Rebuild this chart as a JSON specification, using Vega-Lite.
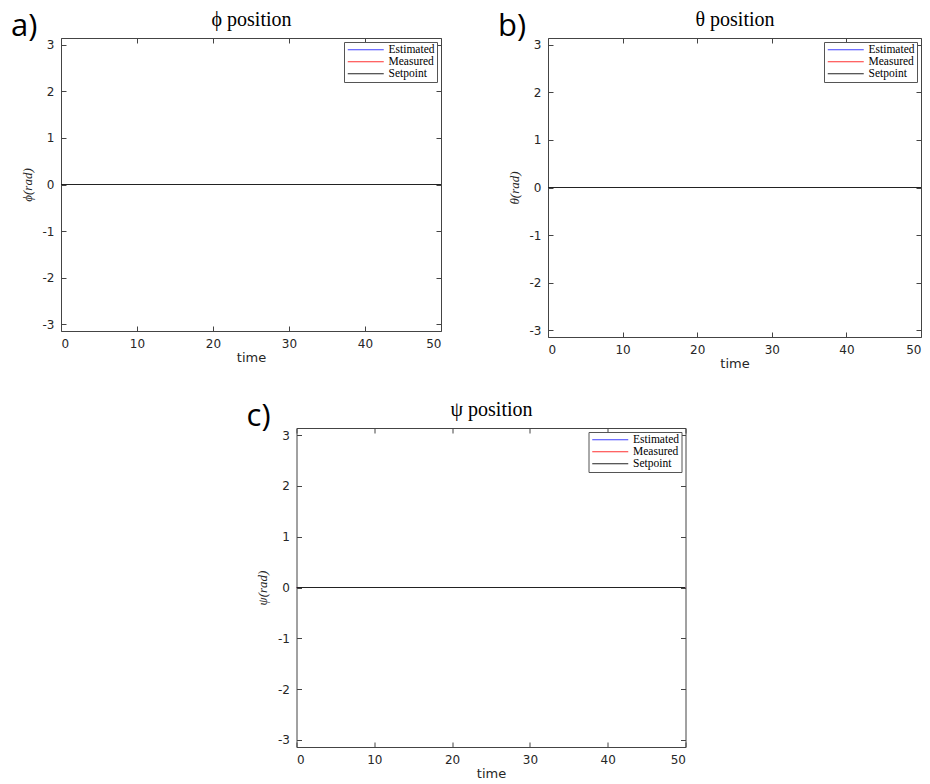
{
  "$schema": "https://vega.github.io/schema/vega-lite/v6.json",
  "padding": {"left": 10, "top": 9, "right": 3, "bottom": 3},
  "datasets": {
    "d": [
      {"t": 0, "v": 0, "s": "Estimated"}, {"t": 50, "v": 0, "s": "Estimated"},
      {"t": 0, "v": 0, "s": "Measured"}, {"t": 50, "v": 0, "s": "Measured"},
      {"t": 0, "v": 0, "s": "Setpoint"}, {"t": 50, "v": 0, "s": "Setpoint"}
    ]
  },
  "config": {
    "view": {"stroke": "#444", "strokeWidth": 1},
    "axis": {
      "domain": false, "grid": false, "tickColor": "#444", "tickSize": 5, "offset": -5, "labelPadding": 7,
      "labelFont": "DejaVu Sans", "labelFontSize": 12, "labelColor": "#262626",
      "titleFont": "DejaVu Sans", "titleFontSize": 13, "titleFontWeight": "normal", "titleColor": "#262626"
    },
    "legend": {
      "orient": "top-right", "offset": 4, "title": null, "strokeColor": "#555", "fillColor": "white",
      "padding": 2, "symbolType": "M-1,0H8", "symbolSize": 64, "symbolStrokeWidth": 1,
      "labelFont": "Liberation Serif", "labelFontSize": 11.5, "labelColor": "black", "labelOffset": 31, "rowPadding": -3
    },
    "title": {"anchor": "start", "font": "Open Sans", "fontSize": 31, "fontWeight": "normal", "color": "black", "offset": -33, "dx": -10}
  },
  "vconcat": [
    {
      "hconcat": [
        {
          "width": 380, "height": 293,
          "title": "a)",
          "data": {"name": "d"},
          "layer": [
            {"mark": {"type": "line", "strokeWidth": 1, "clip": true},
             "encoding": {
               "x": {"field": "t", "type": "quantitative", "scale": {"domain": [0, 50], "nice": false}, "axis": {"orient": "bottom", "title": "time", "values": [0, 10, 20, 30, 40, 50], "titlePadding": 2}},
               "y": {"field": "v", "type": "quantitative", "scale": {"domain": [-3.1416, 3.1416], "nice": false, "zero": false}, "axis": {"orient": "left", "title": "ϕ(rad)", "values": [-3, -2, -1, 0, 1, 2, 3], "labelExpr": "toString(datum.value)", "titleFont": "Liberation Serif", "titleFontStyle": "italic", "titleFontSize": 13, "titlePadding": 8}},
               "color": {"field": "s", "type": "nominal", "scale": {"domain": ["Estimated", "Measured", "Setpoint"], "range": ["#4040ff", "#ff3030", "#222222"]}}
             }},
            {"mark": {"type": "point", "opacity": 0},
             "encoding": {
               "x": {"datum": 0, "type": "quantitative", "scale": {"domain": [0, 50], "nice": false}, "axis": {"orient": "top", "labels": false, "values": [0, 10, 20, 30, 40, 50], "title": "ϕ position", "titleFont": "Liberation Serif", "titleFontSize": 20, "titleColor": "black", "titlePadding": 8}},
               "y": {"datum": 0, "type": "quantitative", "scale": {"domain": [-3.1416, 3.1416], "nice": false, "zero": false}, "axis": {"orient": "right", "labels": false, "values": [-3, -2, -1, 0, 1, 2, 3], "title": null}}
             }}
          ],
          "resolve": {"axis": {"x": "independent", "y": "independent"}}
        },
        {
          "width": 373, "height": 299,
          "title": "b)",
          "data": {"name": "d"},
          "layer": [
            {"mark": {"type": "line", "strokeWidth": 1, "clip": true},
             "encoding": {
               "x": {"field": "t", "type": "quantitative", "scale": {"domain": [0, 50], "nice": false}, "axis": {"orient": "bottom", "title": "time", "values": [0, 10, 20, 30, 40, 50], "titlePadding": 2}},
               "y": {"field": "v", "type": "quantitative", "scale": {"domain": [-3.1416, 3.1416], "nice": false, "zero": false}, "axis": {"orient": "left", "title": "θ(rad)", "values": [-3, -2, -1, 0, 1, 2, 3], "labelExpr": "toString(datum.value)", "titleFont": "Liberation Serif", "titleFontStyle": "italic", "titleFontSize": 13, "titlePadding": 8}},
               "color": {"field": "s", "type": "nominal", "scale": {"domain": ["Estimated", "Measured", "Setpoint"], "range": ["#4040ff", "#ff3030", "#222222"]}}
             }},
            {"mark": {"type": "point", "opacity": 0},
             "encoding": {
               "x": {"datum": 0, "type": "quantitative", "scale": {"domain": [0, 50], "nice": false}, "axis": {"orient": "top", "labels": false, "values": [0, 10, 20, 30, 40, 50], "title": "θ position", "titleFont": "Liberation Serif", "titleFontSize": 20, "titleColor": "black", "titlePadding": 8}},
               "y": {"datum": 0, "type": "quantitative", "scale": {"domain": [-3.1416, 3.1416], "nice": false, "zero": false}, "axis": {"orient": "right", "labels": false, "values": [-3, -2, -1, 0, 1, 2, 3], "title": null}}
             }}
          ],
          "resolve": {"axis": {"x": "independent", "y": "independent"}}
        }
      ],
      "spacing": 55,
      "resolve": {"legend": {"color": "independent"}}
    },
    {
      "width": 389, "height": 319,
      "title": "c)",
      "data": {"name": "d"},
      "layer": [
        {"mark": {"type": "line", "strokeWidth": 1, "clip": true},
         "encoding": {
           "x": {"field": "t", "type": "quantitative", "scale": {"domain": [0, 50], "nice": false}, "axis": {"orient": "bottom", "title": "time", "values": [0, 10, 20, 30, 40, 50], "titlePadding": 2}},
           "y": {"field": "v", "type": "quantitative", "scale": {"domain": [-3.1416, 3.1416], "nice": false, "zero": false}, "axis": {"orient": "left", "title": "ψ(rad)", "values": [-3, -2, -1, 0, 1, 2, 3], "labelExpr": "toString(datum.value)", "titleFont": "Liberation Serif", "titleFontStyle": "italic", "titleFontSize": 13, "titlePadding": 8}},
           "color": {"field": "s", "type": "nominal", "scale": {"domain": ["Estimated", "Measured", "Setpoint"], "range": ["#4040ff", "#ff3030", "#222222"]}}
         }},
        {"mark": {"type": "point", "opacity": 0},
         "encoding": {
           "x": {"datum": 0, "type": "quantitative", "scale": {"domain": [0, 50], "nice": false}, "axis": {"orient": "top", "labels": false, "values": [0, 10, 20, 30, 40, 50], "title": "ψ position", "titleFont": "Liberation Serif", "titleFontSize": 20, "titleColor": "black", "titlePadding": 8}},
           "y": {"datum": 0, "type": "quantitative", "scale": {"domain": [-3.1416, 3.1416], "nice": false, "zero": false}, "axis": {"orient": "right", "labels": false, "values": [-3, -2, -1, 0, 1, 2, 3], "title": null}}
         }}
      ],
      "resolve": {"axis": {"x": "independent", "y": "independent"}}
    }
  ],
  "spacing": 28,
  "center": true,
  "resolve": {"legend": {"color": "independent"}}
}
